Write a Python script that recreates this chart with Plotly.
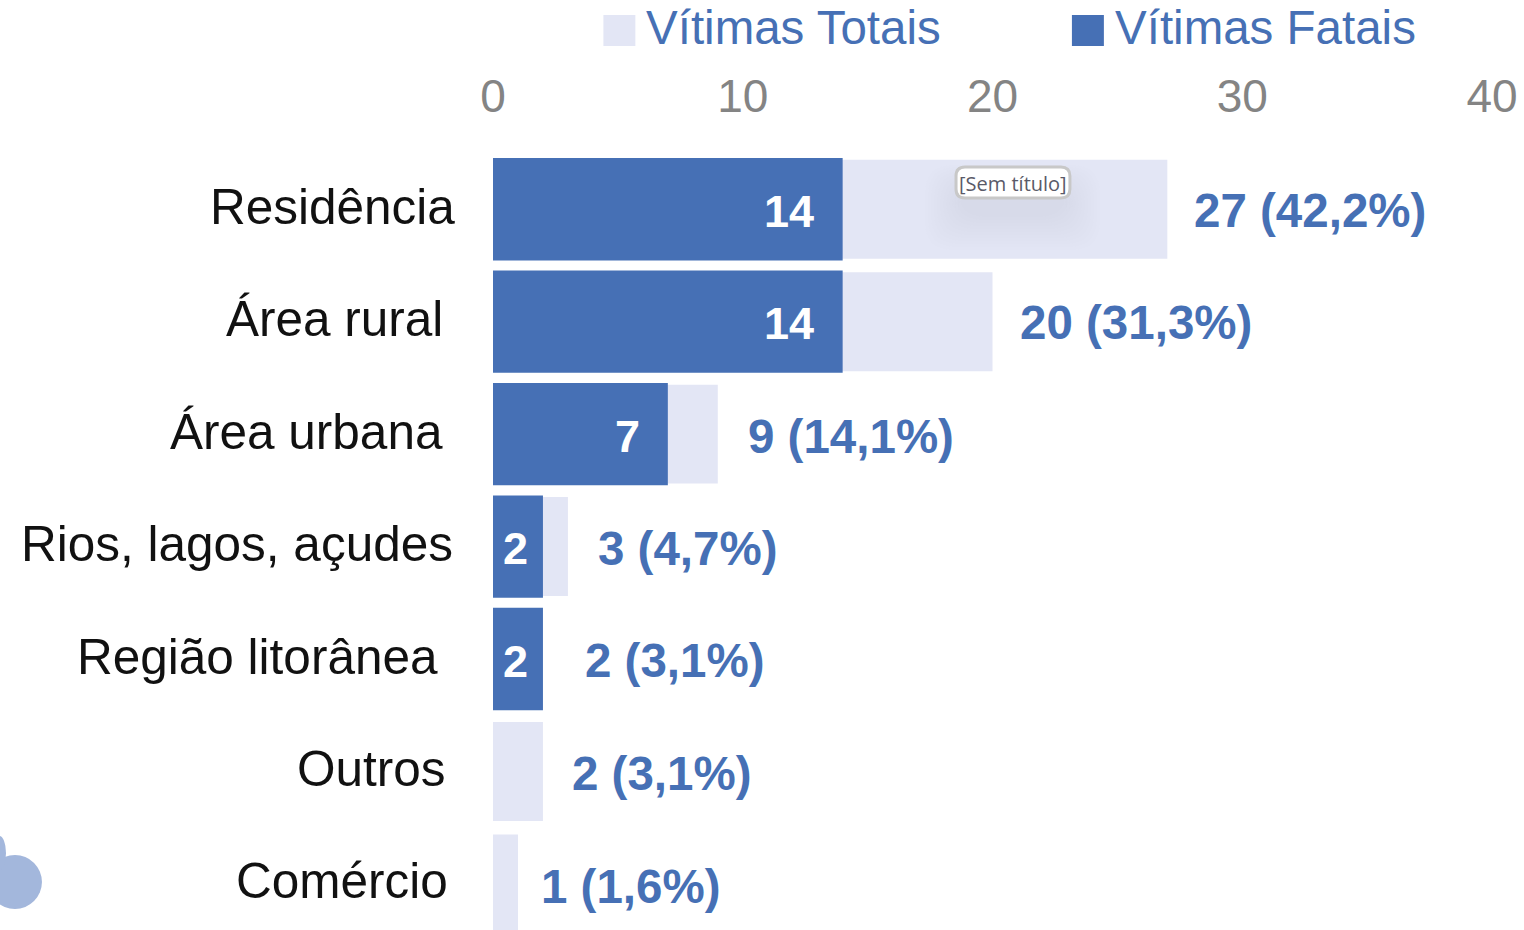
import plotly.graph_objects as go

categories = ["Residência", "Área rural", "Área urbana", "Rios, lagos, açudes", "Região litorânea", "Outros", "Comércio"]
totais = [27, 20, 9, 3, 2, 2, 1]
fatais = [14, 14, 7, 2, 2, 0, 0]
total_labels = ["27 (42,2%)", "20 (31,3%)", "9 (14,1%)", "3 (4,7%)", "2 (3,1%)", "2 (3,1%)", "1 (1,6%)"]
fatal_labels = ["14", "14", "7", "2", "2", "", ""]
ticks = [0, 10, 20, 30, 40]
legend_names = ["Vítimas Totais", "Vítimas Fatais"]
tooltip_text = "[Sem título]"

# label nudges seen in the reference (pixels)
cat_shift = [-36, -48, -48, -38, -53, -45, -43]
total_shift = [25, 25, 28, 28, 40, 27, 21]
fatal_shift = [-27, -27, -26, -13, -13, 0, 0]
total_yshift = [-1, -1, -2, -2, -1, -2, -3]

F = "Liberation Sans"
BLUE = "#4670b5"
PALE = "#e3e6f5"
W, H, L, T = 1524, 930, 492.5, 153
PW, PH = 1000, H - T


def px(x):
    return (x - L) / PW


def py(y):
    return (H - y) / PH


def rect(x0, y0, x1, y1, fill):
    return dict(type="rect", xref="paper", yref="paper", x0=px(x0), x1=px(x1), y0=py(y1), y1=py(y0),
                fillcolor=fill, line=dict(width=0), layer="above")


def rounded(x0, y0, x1, y1, r, fill, line=None, op=1.0):
    xa, xb, ya, yb = px(x0), px(x1), py(y0), py(y1)
    rx, ry = r / PW, r / PH
    p = (f"M {xa+rx},{ya} L {xb-rx},{ya} Q {xb},{ya} {xb},{ya-ry} L {xb},{yb+ry} Q {xb},{yb} {xb-rx},{yb} "
         f"L {xa+rx},{yb} Q {xa},{yb} {xa},{yb+ry} L {xa},{ya-ry} Q {xa},{ya} {xa+rx},{ya} Z")
    return dict(type="path", xref="paper", yref="paper", path=p, fillcolor=fill, opacity=op,
                line=dict(width=0) if not line else dict(color=line, width=3), layer="above")


fig = go.Figure()
fig.add_bar(y=categories, x=totais, name=legend_names[0], orientation="h", marker_color=PALE, marker_line_width=0,
            width=0.88, showlegend=False)
fig.add_bar(y=categories, x=fatais, name=legend_names[1], orientation="h", marker_color=BLUE, marker_line_width=0,
            width=0.91, showlegend=False)

ann = []
for c, t, s, tl, ts, ty, fv, fl, fs in zip(categories, totais, cat_shift, total_labels, total_shift, total_yshift,
                                           fatais, fatal_labels, fatal_shift):
    ann.append(dict(x=0, y=c, text=c, xanchor="right", yanchor="middle", xshift=s, yshift=3, showarrow=False,
                    font=dict(family=F, size=49.5, color="#111111")))
    ann.append(dict(x=t, y=c, text=tl, xanchor="left", yanchor="middle", xshift=ts, yshift=ty, showarrow=False,
                    font=dict(family=F, size=47.5, color=BLUE, weight="bold")))
    if fl:
        ann.append(dict(x=fv, y=c, text=fl, xanchor="right", yanchor="middle", xshift=fs, yshift=-2, showarrow=False,
                        font=dict(family=F, size=45, color="white", weight="bold")))

# legend
ann.append(dict(xref="paper", yref="paper", x=px(644), y=py(27.5), text=legend_names[0], xanchor="left", yanchor="middle",
                showarrow=False, font=dict(family=F, size=47.5, color=BLUE)))
ann.append(dict(xref="paper", yref="paper", x=px(1113), y=py(27.5), text=legend_names[1], xanchor="left", yanchor="middle",
                showarrow=False, font=dict(family=F, size=47.5, color=BLUE)))
ann.append(dict(xref="paper", yref="paper", x=px(1013), y=py(183), text=tooltip_text, xanchor="center", yanchor="middle",
                showarrow=False, font=dict(family="Open Sans", size=20, color="#5a5a68")))

shapes = [rect(603, 15, 635, 46, PALE), rect(1072, 15, 1104, 46, BLUE)]
for i in range(12):
    shapes.append(rounded(925 + i * 3, 165 + i * 2, 1100 - i * 3, 250 - i * 3, 28, "#8a90a8", op=0.012))
shapes.append(rounded(956, 167, 1070, 198, 9, "white", line="#c8c8c8"))
# partly cut-off blob at the lower left corner
shapes.append(dict(type="circle", xref="paper", yref="paper", x0=px(-13), x1=px(41), y0=py(909), y1=py(855),
                   fillcolor="#a3b7dc", line=dict(width=0), layer="above"))
shapes.append(dict(type="circle", xref="paper", yref="paper", x0=px(-8), x1=px(5), y0=py(870), y1=py(836),
                   fillcolor="#a3b7dc", line=dict(width=0), layer="above"))

fig.update_layout(
    width=W, height=H, barmode="overlay", paper_bgcolor="white", plot_bgcolor="white",
    margin=dict(l=L, r=W - L - PW, t=T, b=0, autoexpand=False),
    font=dict(family=F), showlegend=False, annotations=ann, shapes=shapes,
    xaxis=dict(side="top", range=[0, 40], tickvals=ticks, showgrid=False, zeroline=False,
               showline=False, ticks="", ticklabelstandoff=31, tickfont=dict(size=46, color="#848484")),
    yaxis=dict(range=[6.41, -0.5], showgrid=False, zeroline=False, showline=False, ticks="", showticklabels=False),
)
fig.write_html("out.html", config={"displayModeBar": False},
               post_script="document.body.style.margin='0';document.body.style.overflow='hidden';")
